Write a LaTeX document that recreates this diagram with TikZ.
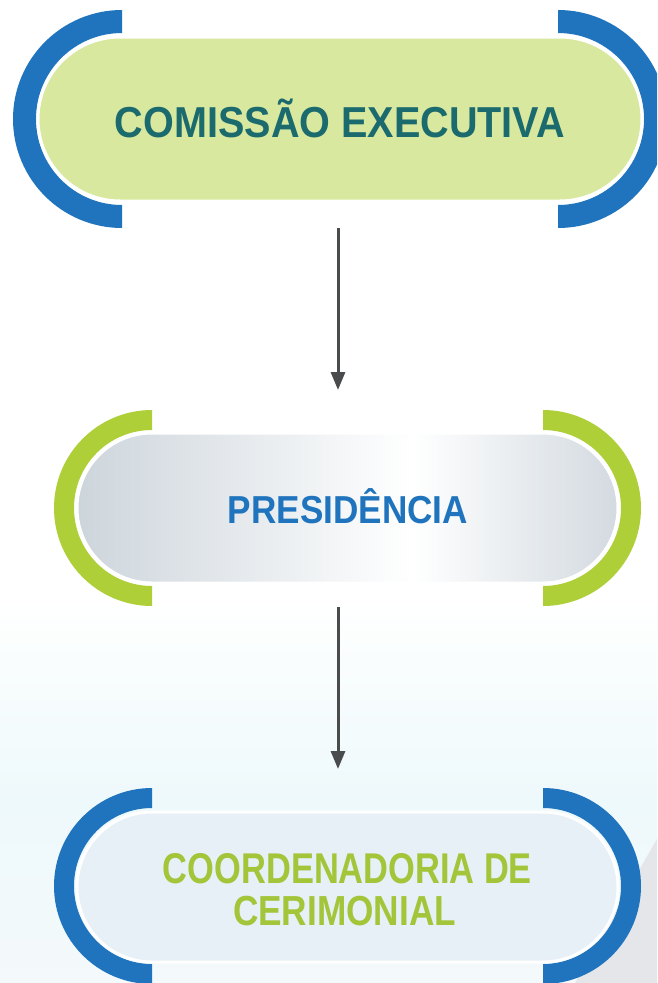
\documentclass[tikz,border=0pt]{standalone}
\usepackage{fontspec}
\setmainfont{Liberation Sans}
\usetikzlibrary{arrows.meta,shapes.misc}
\definecolor{arcblue}{HTML}{1F74BD}
\definecolor{arcgreen}{HTML}{AFCF38}
\definecolor{pillgreen}{HTML}{D8E89E}
\definecolor{tealtxt}{HTML}{1A6A6E}
\definecolor{greentxt}{HTML}{A2C539}
\definecolor{pillblue}{HTML}{E7EFF7}
\definecolor{pillgray}{HTML}{CDD5DC}
\definecolor{pillgrayr}{HTML}{D3DAE0}
\definecolor{arrowgray}{HTML}{4A4B4D}
\definecolor{wash}{HTML}{EEF9FB}
\definecolor{washlow}{HTML}{F4F9FB}
\definecolor{graytri}{HTML}{E4E6E9}
\pgfdeclarehorizontalshading{pillshade}{100bp}{color(0bp)=(pillgray); color(25bp)=(pillgray); color(56bp)=(white); color(75bp)=(pillgrayr); color(100bp)=(pillgrayr)}
\begin{document}
\begin{tikzpicture}[x=1pt,y=-1pt,
  pill/.style={shape=rounded rectangle, draw=white, line width=3pt, inner sep=0pt},
  lbl/.style={anchor=base, inner sep=0pt, font=\bfseries},
  link/.style={draw=arrowgray, line width=3pt, -{Triangle[width=14pt,length=18pt]}},
]
\useasboundingbox (0,0) rectangle (657,983);
\clip (0,0) rectangle (657,983);
% background
\fill[white] (0,0) rectangle (657,983);
\shade[top color=white, bottom color=wash] (0,600) rectangle (657,800);
\shade[top color=wash, bottom color=washlow] (0,800) rectangle (657,983);
\fill[graytri] (662,830) -- (575,983) -- (662,983) -- cycle;

% box 1
\fill[arcblue] (122,10) arc[start angle=270, end angle=90, radius=109] -- (122,205) arc[start angle=90, end angle=270, radius=86] -- cycle;
\fill[arcblue] (558,10) arc[start angle=-90, end angle=90, radius=109] -- (558,205) arc[start angle=90, end angle=-90, radius=86] -- cycle;
\node[pill, fill=pillgreen, minimum width=604pt, minimum height=164pt] (ce) at (340,119) {};
\node[lbl, text=tealtxt] (t1) at (340,137) {\resizebox{450pt}{\height}{\fontsize{43.3pt}{44pt}\selectfont COMISSÃO EXECUTIVA}};

% box 2
\fill[arcgreen] (152,410) arc[start angle=270, end angle=90, radius=98] -- (152,586) arc[start angle=90, end angle=270, radius=78] -- cycle;
\fill[arcgreen] (543,410) arc[start angle=-90, end angle=90, radius=98] -- (543,586) arc[start angle=90, end angle=-90, radius=78] -- cycle;
\node[pill, shading=pillshade, minimum width=541pt, minimum height=150pt] (pr) at (347.5,508) {};
\node[lbl, text=arcblue] (t2) at (348,523) {\resizebox{240pt}{\height}{\fontsize{39pt}{40pt}\selectfont PRESIDÊNCIA}};

% box 3
\fill[arcblue] (152,788) arc[start angle=270, end angle=90, radius=98] -- (152,964) arc[start angle=90, end angle=270, radius=78] -- cycle;
\fill[arcblue] (543,788) arc[start angle=-90, end angle=90, radius=98] -- (543,964) arc[start angle=90, end angle=-90, radius=78] -- cycle;
\node[pill, fill=pillblue, minimum width=541pt, minimum height=150pt] (cc) at (347.5,887) {};
\node[lbl, text=greentxt] (t3a) at (347.5,883) {\resizebox{369pt}{\height}{\fontsize{43pt}{44pt}\selectfont COORDENADORIA DE}};
\node[lbl, text=greentxt] (t3b) at (344.5,925) {\resizebox{223pt}{\height}{\fontsize{42pt}{43pt}\selectfont CERIMONIAL}};

% connectors
\coordinate (a1s) at (338,228);
\coordinate (a1e) at (338,390);
\coordinate (a2s) at (338,607);
\coordinate (a2e) at (338,769);
\draw[link] (a1s) -- (a1e);
\draw[link] (a2s) -- (a2e);
\end{tikzpicture}
\end{document}
